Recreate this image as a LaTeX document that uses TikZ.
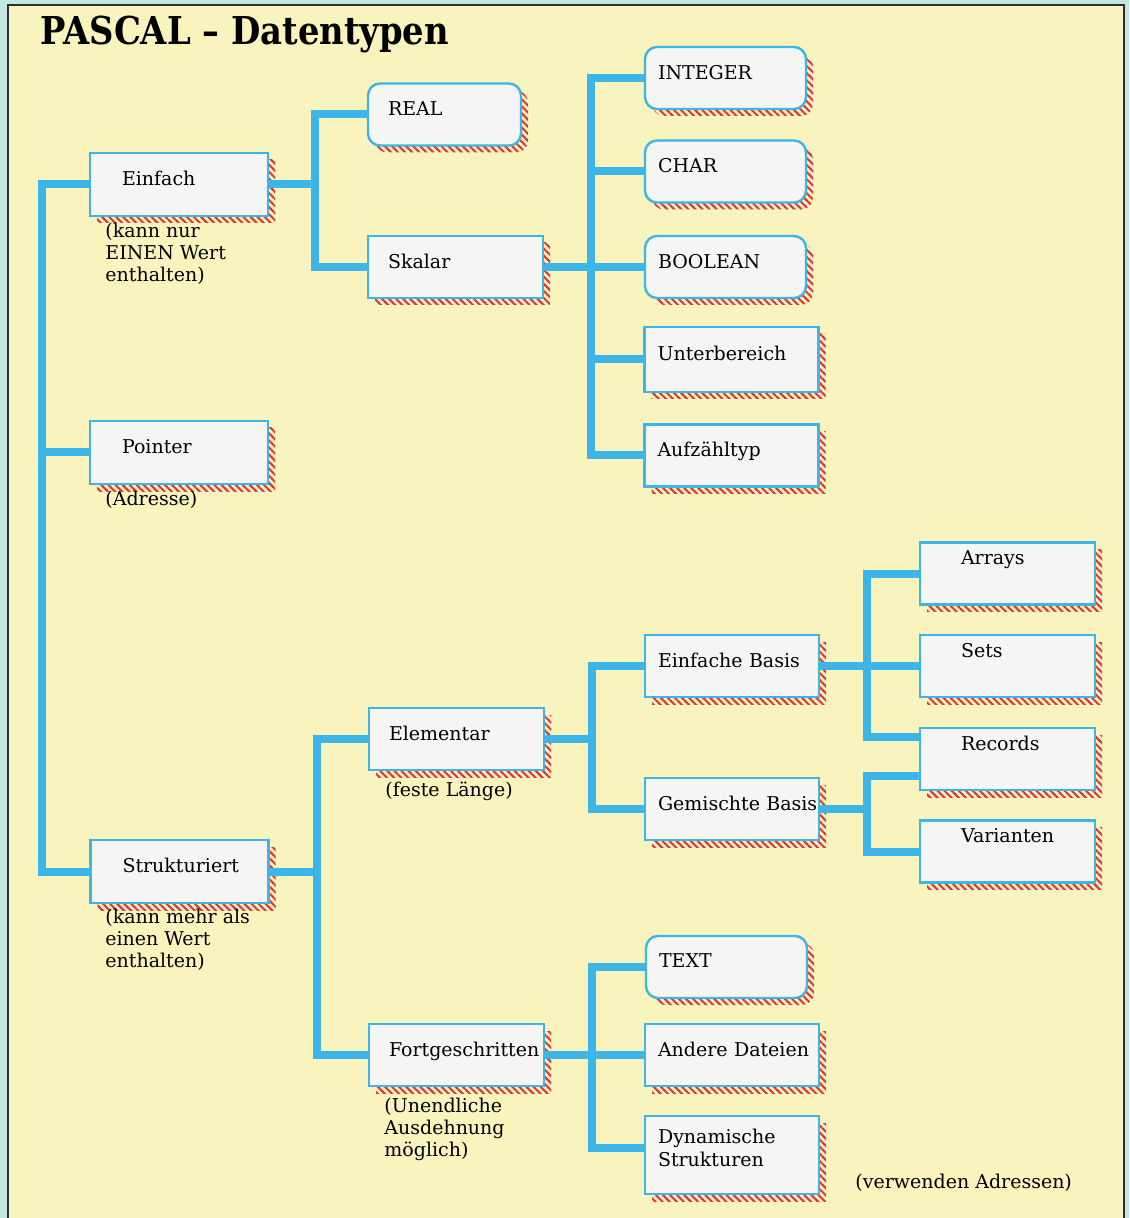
\documentclass[tikz,border=0pt]{standalone}
\usepackage{fontspec}
\setmainfont{DejaVu Serif}
\newfontfamily\titelfont[FakeStretch=0.88]{DejaVu Serif}
\usetikzlibrary{calc}
\usetikzlibrary{shadows}
\usetikzlibrary{patterns.meta}

\definecolor{rand}{HTML}{C3E6E1}
\definecolor{papier}{HTML}{F9F4BD}
\definecolor{leitblau}{HTML}{3DB5E6}
\definecolor{kasten}{HTML}{F5F6F3}
\definecolor{schraffur}{HTML}{E62E3A}
\definecolor{rahmen}{HTML}{2E2E2E}

\begin{document}
\begin{tikzpicture}
  [
    x=0.5pt, y=-0.5pt,
    every node/.style={font=\fontsize{9.5}{11.5}\selectfont},
    typ/.style   = {draw=leitblau, line width=1.2pt, fill=kasten, align=left, inner ysep=0pt,
                    minimum height=31pt, text depth=6pt,
                    general shadow={shadow xshift=3.5pt, shadow yshift=-3.5pt,
                      pattern={Lines[angle=-45, distance=2.5pt, line width=1pt]}, pattern color=schraffur}},
    rtyp/.style  = {typ, rounded corners=6pt},
    spA/.style   = {typ, text width=57pt, inner xsep=16pt, minimum height=31.5pt},
    spB/.style   = {typ, text width=67.5pt, inner xsep=10pt},
    spC/.style   = {typ, text width=74pt, inner xsep=6.5pt},
    spCr/.style  = {rtyp, text width=67.5pt, inner xsep=6.5pt},
    spD/.style   = {typ, text width=46.5pt, inner xsep=20.5pt, text depth=16pt},
    leitung/.style = {draw=leitblau, line width=4pt},
    info/.style  = {anchor=north west, align=left, inner sep=0pt, font=\fontsize{9.5}{11}\selectfont},
  ]

  \useasboundingbox (0,0) rectangle (1129,1218);

  % Papier und Rahmen
  \fill[rand] (0,0) rectangle (1129,1218);
  \fill[papier] (8,5) rectangle (1124,1218);
  \draw[rahmen, line width=1pt] (8,1218) -- (8,5) -- (1124,5) -- (1124,1218);

  \node[anchor=base west, inner sep=0pt, font=\titelfont\bfseries\fontsize{19.2}{22}\selectfont] (titel) at (40,45) {PASCAL – Datentypen};

  % erste Ebene
  \node[spA] (einfach) at (179,184.5) {Einfach};
  \node[spA] (pointer) at (179,452.5) {Pointer};
  \node[spA] (strukt) at (179.5,871.5) {Strukturiert};

  \node[info] (einfachinfo) at (105,223) {(kann nur\\EINEN Wert\\enthalten)};
  \node[info] (pointerinfo) at (105,491) {(Adresse)};
  \node[info] (struktinfo) at (105,909) {(kann mehr als\\einen Wert\\enthalten)};

  % zweite Ebene
  \node[rtyp, text width=56.5pt, inner xsep=10pt] (real) at (444.5,114.5) {REAL};
  \node[spB] (skalar) at (455.5,267) {Skalar};
  \node[spB] (elementar) at (456.5,739) {Elementar};
  \node[spB] (fortg) at (456.5,1055) {Fortgeschritten};

  \node[info] (elementarinfo) at (385,782) {(feste Länge)};
  \node[info] (fortginfo) at (384,1098) {(Unendliche\\Ausdehnung\\möglich)};

  % dritte Ebene
  \node[spCr] (integer) at (725.5,78) {INTEGER};
  \node[spCr] (char) at (725.5,171.5) {CHAR};
  \node[spCr] (boolean) at (725.5,267) {BOOLEAN};
  \node[spC, minimum height=32.5pt] (unterber) at (731.5,359.5) {Unterbereich};
  \node[spC] (aufzaehl) at (731.5,455.5) {Aufzähltyp};
  \node[spC] (einfbasis) at (732,666) {\mbox{Einfache Basis}};
  \node[spC] (gemischt) at (732,809) {\mbox{Gemischte Basis}};
  \node[spCr] (textdatei) at (726.5,967) {TEXT};
  \node[spC] (andere) at (732,1055) {\mbox{Andere Dateien}};
  \node[spC, minimum height=39pt, text depth=18.7pt] (dynamisch) at (732,1155) {Dynamische\\Strukturen};

  \node[info] (dynamischinfo) at (855,1174) {(verwenden Adressen)};

  % vierte Ebene
  \node[spD] (arrays) at (1007.5,573.5) {Arrays};
  \node[spD] (sets) at (1007.5,666) {Sets};
  \node[spD] (records) at (1007.5,759) {Records};
  \node[spD] (varianten) at (1007.5,851.5) {Varianten};

  % Leitungen
  \coordinate (stamm) at (42,184.5);
  \draw[leitung] (einfach.west) -- (stamm) |- (strukt.west);
  \draw[leitung] (pointer.west) -- (pointer.west -| stamm);

  \coordinate (gabelA) at (315,184.5);
  \draw[leitung] (einfach.east) -- (gabelA);
  \draw[leitung] (real.west) -| (gabelA) |- (skalar.west);

  \coordinate (gabelB) at (591,267);
  \draw[leitung] (skalar.east) -- (boolean.west);
  \draw[leitung] (integer.west) -| (gabelB) |- (aufzaehl.west);
  \draw[leitung] (char.west) -- (char.west -| gabelB);
  \draw[leitung] (unterber.west) -- (unterber.west -| gabelB);

  \coordinate (gabelC) at (317,871.5);
  \draw[leitung] (strukt.east) -- (gabelC);
  \draw[leitung] (elementar.west) -| (gabelC) |- (fortg.west);

  \coordinate (gabelD) at (592,739);
  \draw[leitung] (elementar.east) -- (gabelD);
  \draw[leitung] (einfbasis.west) -| (gabelD) |- (gemischt.west);

  \coordinate (gabelE) at (867,666);
  \coordinate (recordsoben) at ($(records.north west)!0.16!(records.south west)$);
  \coordinate (recordsunten) at ($(records.north west)!0.77!(records.south west)$);
  \draw[leitung] (einfbasis.east) -- (sets.west);
  \draw[leitung] (arrays.west) -| (gabelE) |- (recordsoben);

  \coordinate (gabelF) at (867,809);
  \draw[leitung] (gemischt.east) -- (gabelF);
  \draw[leitung] (recordsunten) -| (gabelF) |- (varianten.west);

  \coordinate (gabelG) at (592,1055);
  \coordinate (dynamischlinks) at ($(dynamisch.west)+(0,-7)$);
  \draw[leitung] (fortg.east) -- (andere.west);
  \draw[leitung] (textdatei.west) -| (gabelG) |- (dynamischlinks);
\end{tikzpicture}
\end{document}
